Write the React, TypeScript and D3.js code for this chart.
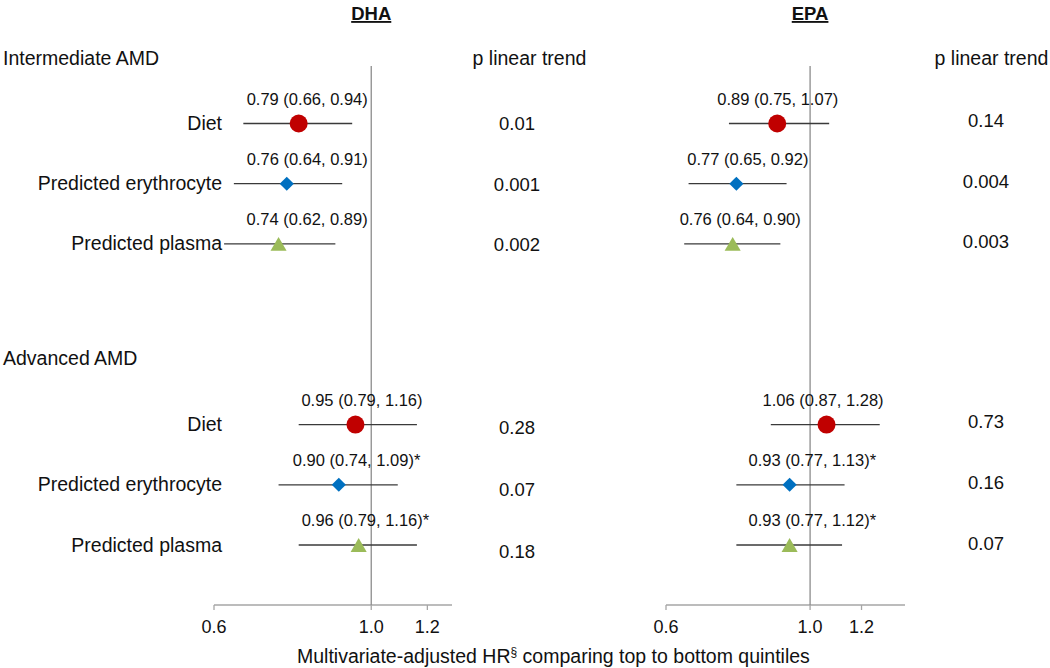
import React from "react";
import * as d3 from "d3";

// ---------- data ----------
const ROW_LABELS = ["Diet", "Predicted erythrocyte", "Predicted plasma"];
const GROUPS = ["Intermediate AMD", "Advanced AMD"];
const MARKERS = ["circle", "diamond", "triangle"];

const DHA_HR = [0.79, 0.76, 0.74, 0.95, 0.9, 0.96];
const DHA_LO = [0.66, 0.64, 0.62, 0.79, 0.74, 0.79];
const DHA_HI = [0.94, 0.91, 0.89, 1.16, 1.09, 1.16];
const DHA_STAR = [false, false, false, false, true, true];
const DHA_P = ["0.01", "0.001", "0.002", "0.28", "0.07", "0.18"];

const EPA_HR = [0.89, 0.77, 0.76, 1.06, 0.93, 0.93];
const EPA_LO = [0.75, 0.65, 0.64, 0.87, 0.77, 0.77];
const EPA_HI = [1.07, 0.92, 0.9, 1.28, 1.13, 1.12];
const EPA_STAR = [false, false, false, false, true, true];
const EPA_P = ["0.14", "0.004", "0.003", "0.73", "0.16", "0.07"];

const TICKS = [0.6, 1.0, 1.2];
const X_TITLE_A = "Multivariate-adjusted HR";
const X_TITLE_SUP = "§";
const X_TITLE_B = " comparing top to bottom quintiles";

// ---------- layout ----------
const W = 1050;
const H = 668;
const FONT = "'Liberation Sans', Arial, Helvetica, sans-serif";
const AXIS_Y = 605;
const REF_TOP = 66;
const ROW_INDEX = [0, 1, 2, 5, 6, 7];
const yRow = d3.scaleLinear().domain([0, 7]).range([123.5, 545]);
const COLORS = { circle: "#C00000", diamond: "#0070C0", triangle: "#9BBB59" };
// label left-edge offsets relative to the point estimate (px)
const DHA_LABEL_DX = [-52, -40, -32, -54, -46, -57];
const EPA_LABEL_DX = [-60, -49, -53, -64, -41, -41];
const DHA_P_DY = [0, 1, 0.5, 3, 4.5, 6];
const EPA_P_DY = [-3.5, -2, -2.5, -3, -2.5, -2];

const fmt = (v: number) => v.toFixed(2);

type PanelProps = {
  title: string;
  domain: [number, number];
  range: [number, number];
  hr: number[];
  lo: number[];
  hi: number[];
  star: boolean[];
  p: string[];
  labelDx: number[];
  pX: number;
  pDy: number[];
  headerX: number;
};

function Marker({ kind, x, y }: { kind: string; x: number; y: number }) {
  if (kind === "circle") {
    const path = d3.symbol().type(d3.symbolCircle).size(Math.PI * 9 * 9)();
    return <path d={path || ""} transform={`translate(${x},${y})`} fill={COLORS.circle} />;
  }
  if (kind === "diamond") {
    const path = d3.symbol().type(d3.symbolSquare).size(100)();
    return <path d={path || ""} transform={`translate(${x},${y}) rotate(45)`} fill={COLORS.diamond} />;
  }
  const path = d3.symbol().type(d3.symbolTriangle).size(112)();
  return <path d={path || ""} transform={`translate(${x},${y + 2.3})`} fill={COLORS.triangle} />;
}

function Panel(props: PanelProps) {
  const x = d3.scaleLog().domain(props.domain).range(props.range);
  const x1 = x(1);
  return (
    <g>
      <text
        x={x1}
        y={20}
        textAnchor="middle"
        fontWeight="bold"
        fontSize={18.5}
        textDecoration="underline"
        fill="#111"
      >
        {props.title}
      </text>
      <text x={props.headerX} y={58} dominantBaseline="central" textAnchor="middle" fontSize={19.5} fill="#111">
        p linear trend
      </text>
      {/* axis */}
      <line x1={props.range[0]} x2={props.range[1]} y1={AXIS_Y} y2={AXIS_Y} stroke="#a6a6a6" strokeWidth={1.3} />
      {TICKS.map((t) => (
        <g key={t}>
          <line x1={x(t)} x2={x(t)} y1={AXIS_Y} y2={AXIS_Y + 5} stroke="#a6a6a6" strokeWidth={1.3} />
          <text x={x(t)} y={627} textAnchor="middle" dominantBaseline="central" fontSize={18} fill="#111">
            {fmt(t).slice(0, 3)}
          </text>
        </g>
      ))}
      {/* reference line */}
      <line x1={x1} x2={x1} y1={REF_TOP} y2={AXIS_Y} stroke="#8c8c8c" strokeWidth={1.3} />
      {props.hr.map((v, i) => {
        const y = yRow(ROW_INDEX[i]);
        const cx = x(v);
        const kind = MARKERS[i % 3];
        const label = `${fmt(v)} (${fmt(props.lo[i])}, ${fmt(props.hi[i])})${props.star[i] ? "*" : ""}`;
        return (
          <g key={i}>
            <line x1={x(props.lo[i])} x2={x(props.hi[i])} y1={y} y2={y} stroke="#3a3a3a" strokeWidth={1.3} />
            <Marker kind={kind} x={cx} y={y} />
            <text x={cx + props.labelDx[i]} y={y - 25} dominantBaseline="central" fontSize={16.5} fill="#111">
              {label}
            </text>
            <text
              x={props.pX}
              y={y + props.pDy[i]}
              textAnchor="middle"
              dominantBaseline="central"
              fontSize={18.5}
              fill="#111"
            >
              {props.p[i]}
            </text>
          </g>
        );
      })}
    </g>
  );
}

export default function App() {
  return (
    <svg
      width={W}
      height={H}
      viewBox={`0 0 ${W} ${H}`}
      style={{ position: "absolute", left: 0, top: 0, background: "#fff" }}
      fontFamily={FONT}
    >
      <rect width={W} height={H} fill="#fff" />
      <text x={3} y={58} dominantBaseline="central" fontSize={19.5} fill="#111">
        {GROUPS[0]}
      </text>
      <text x={3} y={358} dominantBaseline="central" fontSize={19.5} fill="#111">
        {GROUPS[1]}
      </text>
      {ROW_INDEX.map((r, i) => (
        <text
          key={i}
          x={222}
          y={yRow(r) - 0.5}
          textAnchor="end"
          dominantBaseline="central"
          fontSize={19.5}
          fill="#111"
        >
          {ROW_LABELS[i % 3]}
        </text>
      ))}
      <Panel
        title="DHA"
        domain={[0.6, 1.3]}
        range={[214, 452]}
        hr={DHA_HR}
        lo={DHA_LO}
        hi={DHA_HI}
        star={DHA_STAR}
        p={DHA_P}
        labelDx={DHA_LABEL_DX}
        pX={517}
        pDy={DHA_P_DY}
        headerX={529.5}
      />
      <Panel
        title="EPA"
        domain={[0.6, 1.4]}
        range={[666, 905]}
        hr={EPA_HR}
        lo={EPA_LO}
        hi={EPA_HI}
        star={EPA_STAR}
        p={EPA_P}
        labelDx={EPA_LABEL_DX}
        pX={986}
        pDy={EPA_P_DY}
        headerX={991.5}
      />
      <text x={297} y={663} fontSize={19.5} fill="#111">
        {X_TITLE_A}
        <tspan fontSize={12} dy={-7}>
          {X_TITLE_SUP}
        </tspan>
        <tspan dy={7}>{X_TITLE_B}</tspan>
      </text>
    </svg>
  );
}
